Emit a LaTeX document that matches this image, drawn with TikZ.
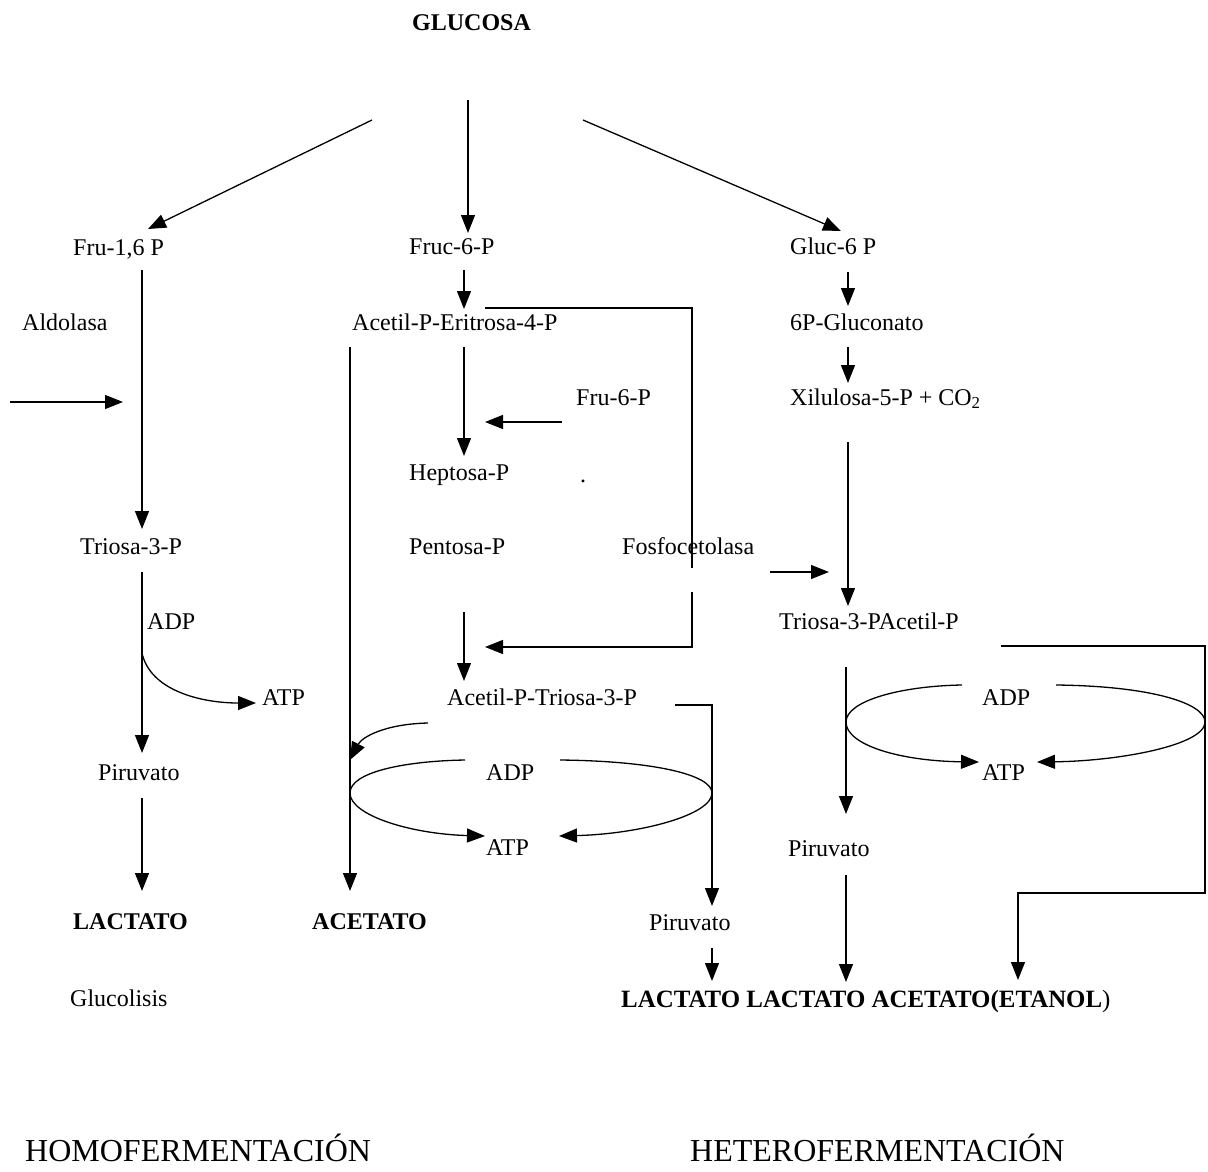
\documentclass[tikz,border=0pt]{standalone}
\usepackage{fontspec}
\setmainfont{Liberation Serif}
\usetikzlibrary{arrows.meta}
\begin{document}
\begin{tikzpicture}[x=1pt,y=-1pt,
  lbl/.style={anchor=base west,inner sep=0pt,font=\fontsize{24}{28}\selectfont},
  blbl/.style={lbl,font=\fontsize{24}{28}\selectfont\bfseries},
  big/.style={anchor=base west,inner sep=0pt,font=\fontsize{32}{38}\selectfont},
  ln/.style={line width=1.3pt},
  arr/.style={ln,-{Triangle[length=18pt,width=14pt]}}]
\useasboundingbox (0,0) rectangle (1208,1171);
% texts
\node[blbl] (glu) at (412,30) {GLUCOSA};
\node[lbl] (fru16) at (73,255) {Fru-1,6 P};
\node[lbl] (fruc6) at (409,254) {Fruc-6-P};
\node[lbl] (gluc6) at (790,254) {Gluc-6 P};
\node[lbl] (aldo) at (22,330) {Aldolasa};
\node[lbl] (acE) at (352,330) {Acetil-P-Eritrosa-4-P};
\node[lbl] (gcn) at (790,330) {6P-Gluconato};
\node[lbl] (fru6) at (576,405) {Fru-6-P};
\node[lbl] (xil) at (790,405) {Xilulosa-5-P + CO\textsubscript{2}};
\node[lbl] (hep) at (409,480) {Heptosa-P};
\node[lbl] (dot) at (580,482) {.};
\node[lbl] (triL) at (80,554) {Triosa-3-P};
\node[lbl] (pen) at (409,554) {Pentosa-P};
\node[lbl] (fos) at (622,554) {Fosfocetolasa};
\node[lbl] (adpL) at (147,629) {ADP};
\node[lbl] (triA) at (779,629) {Triosa-3-PAcetil-P};
\node[lbl] (atpL) at (262,705) {ATP};
\node[lbl] (acT) at (447,705) {Acetil-P-Triosa-3-P};
\node[lbl] (adpR) at (982,705) {ADP};
\node[lbl] (pirL) at (98,780) {Piruvato};
\node[lbl] (adpM) at (486,780) {ADP};
\node[lbl] (atpR) at (982,780) {ATP};
\node[lbl] (atpM) at (486,855) {ATP};
\node[lbl] (pirR) at (788,856) {Piruvato};
\node[blbl] (lac) at (73,929) {LACTATO};
\node[blbl] (ace) at (312,929) {ACETATO};
\node[lbl] (pirM) at (649,930) {Piruvato};
\node[lbl] (gcl) at (70,1006) {Glucolisis};
\node[lbl,font=\fontsize{24.9}{28}\selectfont] (fin) at (621,1007) {\bfseries LACTATO LACTATO ACETATO(ETANOL\mdseries)};
\node[big] (homo) at (25,1161) {HOMOFERMENTACIÓN};
\node[big] (hetero) at (690,1161) {HETEROFERMENTACIÓN};
% coordinates
\coordinate (g1) at (372,120); \coordinate (g1e) at (148,229);
\coordinate (g2) at (468,100); \coordinate (g2e) at (468,233);
\coordinate (g3) at (583,120); \coordinate (g3e) at (841,231);
\coordinate (a1) at (142,270); \coordinate (a1e) at (142,529);
\coordinate (al) at (10,402); \coordinate (ale) at (123,402);
\coordinate (b1) at (464,270); \coordinate (b1e) at (464,309);
\coordinate (k1) at (485,308); \coordinate (k2) at (692,308); \coordinate (k3) at (692,568);
\coordinate (k4) at (692,592); \coordinate (k5) at (692,647); \coordinate (k6) at (485,647);
\coordinate (v1) at (350,347); \coordinate (v1e) at (350,891);
\coordinate (h1) at (464,347); \coordinate (h1e) at (464,456);
\coordinate (f1) at (562,422); \coordinate (f1e) at (485,422);
\coordinate (p1) at (464,612); \coordinate (p1e) at (464,681);
\coordinate (c1) at (848,272); \coordinate (c1e) at (848,306);
\coordinate (c2) at (848,347); \coordinate (c2e) at (848,383);
\coordinate (c3) at (848,442); \coordinate (c3e) at (848,606);
\coordinate (fa) at (770,572); \coordinate (fae) at (829,572);
\coordinate (t1) at (142,572); \coordinate (t1e) at (142,753);
\coordinate (tb) at (142,653); \coordinate (tbe) at (256,703);
\coordinate (l1) at (142,798); \coordinate (l1e) at (142,891);
% middle cycle
\coordinate (mL) at (350,793); \coordinate (mR) at (712,793);
\coordinate (mt1) at (465,760); \coordinate (mt2) at (560,760);
\coordinate (mb1) at (485,836); \coordinate (mb2) at (559,836);
\coordinate (cs) at (428,723); \coordinate (ce) at (350,760);
\coordinate (r1) at (675,705); \coordinate (r2) at (712,705); \coordinate (r2e) at (712,906);
\coordinate (pm) at (712,948); \coordinate (pme) at (712,981);
% right cycle
\coordinate (nL) at (846,722); \coordinate (nR) at (1205,722);
\coordinate (nt1) at (962,685); \coordinate (nt2) at (1056,685);
\coordinate (nb1) at (979,762); \coordinate (nb2) at (1037,762);
\coordinate (q1) at (846,667); \coordinate (q1e) at (846,814);
\coordinate (q2) at (846,875); \coordinate (q2e) at (846,982);
\coordinate (s1) at (1001,646); \coordinate (s2) at (1205,646);
\coordinate (s3) at (1205,893); \coordinate (s4) at (1018,893); \coordinate (s4e) at (1018,980);
% connectors
\draw[arr] (g1) -- (g1e);
\draw[arr] (g2) -- (g2e);
\draw[arr] (g3) -- (g3e);
\draw[arr] (a1) -- (a1e);
\draw[arr] (al) -- (ale);
\draw[arr] (b1) -- (b1e);
\draw[ln] (k1) -- (k2) -- (k3);
\draw[arr] (k4) -- (k5) -- (k6);
\draw[arr] (v1) -- (v1e);
\draw[arr] (h1) -- (h1e);
\draw[arr] (f1) -- (f1e);
\draw[arr] (p1) -- (p1e);
\draw[arr] (c1) -- (c1e);
\draw[arr] (c2) -- (c2e);
\draw[arr] (c3) -- (c3e);
\draw[arr] (fa) -- (fae);
\draw[arr] (t1) -- (t1e);
\draw[arr] (tb) .. controls (150,690) and (200,703) .. (tbe);
\draw[arr] (l1) -- (l1e);
\draw[ln] (mL) .. controls (350,772) and (405,761) .. (mt1);
\draw[ln] (mt2) .. controls (655,761) and (712,775) .. (mR);
\draw[arr] (mL) .. controls (350,815) and (410,834) .. (mb1);
\draw[arr] (mR) .. controls (712,815) and (640,834) .. (mb2);
\draw[arr] (cs) .. controls (385,724) and (362,737) .. (ce);
\draw[arr] (r1) -- (r2) -- (r2e);
\draw[arr] (pm) -- (pme);
\draw[ln] (nL) .. controls (846,701) and (900,686) .. (nt1);
\draw[ln] (nt2) .. controls (1150,686) and (1205,703) .. (nR);
\draw[arr] (nL) .. controls (846,745) and (900,761) .. (nb1);
\draw[arr] (nR) .. controls (1205,745) and (1120,761) .. (nb2);
\draw[arr] (q1) -- (q1e);
\draw[arr] (q2) -- (q2e);
\draw[arr] (s1) -- (s2) -- (s3) -- (s4) -- (s4e);
\end{tikzpicture}
\end{document}
